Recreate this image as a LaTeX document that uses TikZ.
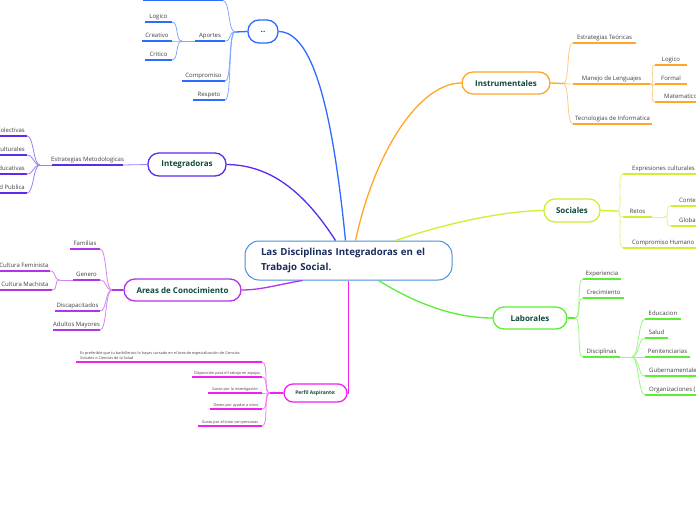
\documentclass[tikz,border=0pt]{standalone}
\usepackage{fontspec}
\setmainfont{Open Sans}
\definecolor{cblue}{HTML}{2F6BFF}
\definecolor{cindigo}{HTML}{5B2BEF}
\definecolor{cpurple}{HTML}{B035E6}
\definecolor{cmag}{HTML}{F020F0}
\definecolor{corange}{HTML}{FFA726}
\definecolor{clime}{HTML}{D2EE2E}
\definecolor{cgreen}{HTML}{5BEF33}
\definecolor{ccentral}{HTML}{4A90D9}
\definecolor{ctext}{HTML}{0E4A3C}
\definecolor{cnavy}{HTML}{1A2B5C}
\tikzset{
  central/.style={draw=ccentral, line width=1pt, rounded corners=14pt, fill=white,
    minimum width=207pt, minimum height=39pt, text width=175pt, align=left,
    inner xsep=16pt, inner ysep=0pt, font=\fontsize{9.7}{15}\selectfont\bfseries, text=cnavy},
  mainnode/.style={draw=#1, line width=1.3pt, rounded corners=11pt, fill=white, text=ctext,
    font=\fontsize{8}{9}\selectfont\bfseries, inner sep=0pt},
  link/.style={draw=#1, line width=1.3pt},
  sub/.style={draw=#1!60!white, line width=0.8pt},
  ul/.style={draw=#1, line width=1.7pt},
  ulthin/.style={draw=#1, line width=1.2pt},
  leaf/.style={font=\fontsize{6}{7}\selectfont, text=black!75, inner sep=0pt},
  tinyleaf/.style={font=\fontsize{3.8}{5}\selectfont, text=black!75, inner sep=0pt},
}
\newcommand\lf[6]{%
  \draw[ul=#2] (#3,#5) coordinate (#1L) -- (#4,#5) coordinate (#1R);
  \node[leaf,anchor=base] (#1) at ({(#3+#4)/2},#5-3.5) {#6};}
\newcommand\lfw[7]{%
  \draw[ul=#2] (#3,#5) coordinate (#1L) -- (#4,#5) coordinate (#1R);
  \node[leaf,anchor=base west] (#1) at (#7,#5-3.5) {#6};}
\newcommand\lfe[6]{%
  \draw[ul=#2] (#3,#5) coordinate (#1L) -- (#4,#5) coordinate (#1R);
  \node[leaf,anchor=base east] (#1) at (#4-2,#5-3.5) {#6};}
\newcommand\lft[6]{%
  \draw[ulthin=#2] (#3,#5) coordinate (#1L) -- (#4,#5) coordinate (#1R);
  \node[tinyleaf,anchor=base] (#1) at ({(#3+#4)/2},#5-2.5) {#6};}
\newcommand\clv[3]{\draw[sub=#1] (#2) .. controls +(-7,0) and +(7,0) .. (#3);}
\newcommand\crv[3]{\draw[sub=#1] (#2) .. controls +(7,0) and +(-7,0) .. (#3);}
\begin{document}
\begin{tikzpicture}[x=1pt,y=-1pt]
\useasboundingbox (0,0) rectangle (696,520);
\clip (0,0) rectangle (696,520);
\fill[white] (0,0) rectangle (696,520);

% central
\node[central] (c) at (348.5,260.5) {Las Disciplinas Integradoras en el\\Trabajo Social.};

% main nodes
\node[mainnode=cblue, minimum width=30pt, minimum height=23pt] (dd) at (263,31.5) {..};
\node[mainnode=cindigo, minimum width=78pt, minimum height=23pt] (ig) at (187,164.5) {Integradoras};
\node[mainnode=cpurple, minimum width=117pt, minimum height=22pt] (ar) at (182.5,290) {Areas de Conocimiento};
\node[mainnode=cmag, minimum width=63pt, minimum height=18pt, rounded corners=9pt,
      font=\fontsize{5}{6}\selectfont\bfseries] (pf) at (315.5,393) {Perfil Aspirante:};
\node[mainnode=corange, minimum width=88pt, minimum height=22pt] (in) at (506,83) {Instrumentales};
\node[mainnode=clime, minimum width=56pt, minimum height=23pt] (so) at (572,210.5) {Sociales};
\node[mainnode=cgreen, minimum width=74pt, minimum height=22pt] (lb) at (530,318) {Laborales};

% main links
\draw[link=cblue] ([xshift=-3pt]c.north) .. controls (332,105) and (312,32) .. (dd.east);
\draw[link=cindigo] ([xshift=-13pt]c.north) .. controls (300,185) and (265,165) .. (ig.east);
\draw[link=cpurple] ([xshift=-46pt]c.south) .. controls (280,284) and (262,290) .. (ar.east);
\draw[link=cmag] (c.south) |- (pf.east);
\draw[link=corange] ([xshift=7pt]c.north) .. controls (375,150) and (420,83) .. (in.west);
\draw[link=clime] ([xshift=47pt]c.north) .. controls (450,222) and (505,211) .. (so.west);
\draw[link=cgreen] ([xshift=30pt]c.south) .. controls (410,300) and (450,318) .. (lb.west);

% ".." branch
\coordinate (jD) at (235,32);
\draw[link=cblue] (dd.west) -- (jD);
\draw[ul=cblue] (143,0.5) coordinate (topL) -- (223,0.5) coordinate (topR);
\lf{ap}{cblue}{195}{225}{41}{Aportes}
\lf{cm}{cblue}{182}{225}{81}{Compromiso}
\lf{rs}{cblue}{193}{225}{100}{Respeto}
\clv{cblue}{jD}{topR}
\clv{cblue}{jD}{apR}
\clv{cblue}{jD}{cmR}
\clv{cblue}{jD}{rsR}
\coordinate (jAp) at (182,41);
\draw[sub=cblue] (apL) -- (jAp);
\lf{lgA}{cblue}{145}{172}{22}{Logico}
\lf{crA}{cblue}{142}{172}{41}{Creativo}
\lf{ctA}{cblue}{145}{172}{60}{Critico}
\clv{cblue}{jAp}{lgAR}
\clv{cblue}{jAp}{crAR}
\clv{cblue}{jAp}{ctAR}

% Integradoras
\lf{em}{cindigo}{52}{123}{165}{Estrategias Metodologicas}
\draw[sub=cindigo] (ig.west) -- (emR);
\coordinate (jEm) at (40,165);
\draw[sub=cindigo] (emL) -- (jEm);
\lfe{co}{cindigo}{-20}{27}{136}{Colectivas}
\lfe{cu}{cindigo}{-20}{27}{155}{Culturales}
\lfe{ed}{cindigo}{-20}{27}{174}{Educativas}
\lfe{sp}{cindigo}{-20}{27}{193}{Salud Publica}
\clv{cindigo}{jEm}{coR}
\clv{cindigo}{jEm}{cuR}
\clv{cindigo}{jEm}{edR}
\clv{cindigo}{jEm}{spR}

% Areas de Conocimiento
\coordinate (jAr) at (112,290);
\draw[link=cpurple] (ar.west) -- (jAr);
\lf{fa}{cpurple}{70}{100}{249}{Familias}
\lf{ge}{cpurple}{73}{100}{280}{Genero}
\lf{di}{cpurple}{55}{100}{311}{Discapacitados}
\lf{am}{cpurple}{53}{100}{330}{Adultos Mayores}
\clv{cpurple}{jAr}{faR}
\clv{cpurple}{jAr}{geR}
\clv{cpurple}{jAr}{diR}
\clv{cpurple}{jAr}{amR}
\coordinate (jGe) at (60,280);
\draw[sub=cpurple] (geL) -- (jGe);
\lf{cf}{cpurple}{-2}{50}{271}{Cultura Feminista}
\lf{cq}{cpurple}{-2}{52}{290}{Cultura Machista}
\clv{cpurple}{jGe}{cfR}
\clv{cpurple}{jGe}{cqR}

% Perfil Aspirante
\coordinate (jPf) at (270,393);
\draw[link=cmag] (pf.west) -- (jPf);
\draw[ulthin=cmag] (76,362) coordinate (p1L) -- (262,362) coordinate (p1R);
\node[tinyleaf, anchor=south west, align=left] (p1) at (80,360)
  {Es preferible que tu bachillerato lo hayas cursado en el área de especialización de Ciencias\\Sociales o Ciencias de la Salud};
\lft{p2}{cmag}{192}{262}{377}{Disposición para el trabajo en equipo}
\lft{p3}{cmag}{208}{262}{393}{Gusto por la investigación}
\lft{p4}{cmag}{210}{262}{409}{Deseo por ayudar a otros}
\lft{p5}{cmag}{198}{262}{426}{Gusto por el trato con personas}
\clv{cmag}{jPf}{p1R}
\clv{cmag}{jPf}{p2R}
\clv{cmag}{jPf}{p3R}
\clv{cmag}{jPf}{p4R}
\clv{cmag}{jPf}{p5R}

% Instrumentales
\coordinate (jIn) at (563,83.5);
\draw[link=corange] (in.east) -- (jIn);
\lf{et}{corange}{573}{636}{43}{Estrategias Teóricas}
\lf{ml}{corange}{573}{650}{84}{Manejo de Lenguajes}
\lf{ti}{corange}{573}{652}{124}{Tecnologias de Informatica}
\crv{corange}{jIn}{etL}
\crv{corange}{jIn}{mlL}
\crv{corange}{jIn}{tiL}
\lf{lgB}{corange}{655}{687}{65}{Logico}
\lf{fo}{corange}{655}{687}{84}{Formal}
\lfw{ma}{corange}{655}{720}{102}{Matematico}{664}
\crv{corange}{mlR}{lgBL}
\crv{corange}{mlR}{foL}
\crv{corange}{mlR}{maL}

% Sociales
\coordinate (jSo) at (617,211);
\draw[link=clime] (so.east) -- (jSo);
\lfw{ex}{clime}{623}{720}{174}{Expresiones culturales}{632}
\lf{re}{clime}{623}{652}{217}{Retos}
\lfw{ch}{clime}{623}{720}{248}{Compromiso Humano}{632}
\crv{clime}{jSo}{exL}
\crv{clime}{jSo}{reL}
\crv{clime}{jSo}{chL}
\coordinate (jRe) at (664,217);
\draw[sub=clime] (reR) -- (jRe);
\lfw{cx}{clime}{671}{720}{206}{Conte}{679}
\lfw{gl}{clime}{671}{720}{226}{Global}{679}
\crv{clime}{jRe}{cxL}
\crv{clime}{jRe}{glL}

% Laborales
\coordinate (jLb) at (575,318);
\draw[link=cgreen] (lb.east) -- (jLb);
\lf{xp}{cgreen}{583}{621}{279}{Experiencia}
\lf{cc}{cgreen}{583}{624}{298}{Crecimiento}
\lf{dp}{cgreen}{583}{620}{357}{Disciplinas}
\crv{cgreen}{jLb}{xpL}
\crv{cgreen}{jLb}{ccL}
\crv{cgreen}{jLb}{dpL}
\coordinate (jDp) at (632,357);
\draw[sub=cgreen] (dpR) -- (jDp);
\lf{eu}{cgreen}{645}{681}{319}{Educacion}
\lf{sa}{cgreen}{645}{668}{338}{Salud}
\lf{pe}{cgreen}{645}{690}{357}{Penitenciarias}
\lfw{gu}{cgreen}{645}{720}{376}{Gubernamentales}{649}
\lfw{og}{cgreen}{645}{720}{395}{Organizaciones (}{649}
\crv{cgreen}{jDp}{euL}
\crv{cgreen}{jDp}{saL}
\crv{cgreen}{jDp}{peL}
\crv{cgreen}{jDp}{guL}
\crv{cgreen}{jDp}{ogL}
\end{tikzpicture}
\end{document}
